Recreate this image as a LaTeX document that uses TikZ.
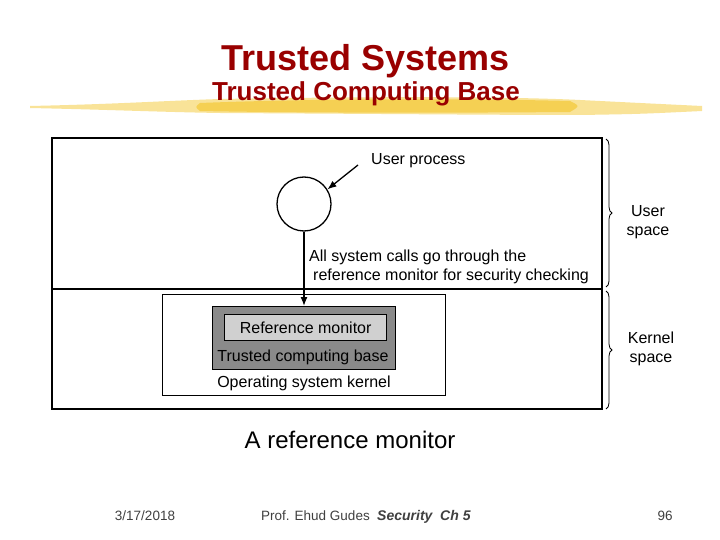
\documentclass[tikz,border=0pt]{standalone}
\usepackage{fontspec}
\setmainfont{Liberation Sans}
\usetikzlibrary{decorations.pathreplacing,arrows.meta}
\definecolor{titlered}{HTML}{990000}
\definecolor{hlyellow}{HTML}{F2C21B}
\definecolor{tcbgray}{HTML}{8A8A8A}
\definecolor{rmgray}{HTML}{D0D0D0}
\definecolor{footgray}{HTML}{404040}
\begin{document}
\begin{tikzpicture}[x=1pt,y=-1pt,
  box/.style={draw=black, line width=1.3pt},
  lbl/.style={font=\fontsize{16}{18}\selectfont, inner sep=0pt},
  brc/.style={decorate, decoration={brace, amplitude=6pt}, line width=0.8pt},
  foot/.style={font=\fontsize{13.5}{15}\selectfont, text=footgray, inner sep=0pt, anchor=base}
]
\useasboundingbox (0,0) rectangle (720,540);
\fill[white] (0,0) rectangle (720,540);

% highlighter stroke
\fill[hlyellow, opacity=0.45] (30,106) .. controls (120,104) and (160,101) .. (220,99) .. controls (400,96) and (520,97) .. (580,100) .. controls (640,103) .. (702,106) -- (702,111) .. controls (640,114) .. (580,115) .. controls (500,115) and (400,114) .. (220,113) .. controls (160,112) and (120,110) .. (30,108) -- cycle;
\fill[hlyellow, opacity=0.55] (200,103) .. controls (300,99) and (450,98) .. (570,101) .. controls (580,106) .. (570,112) .. controls (450,113) and (300,113) .. (200,111) .. controls (195,107) .. (200,103) -- cycle;

% titles
\node[font=\bfseries\fontsize{36}{40}\selectfont, text=titlered, inner sep=0pt, anchor=base] (title) at (366,71) {Trusted Systems};
\node[font=\bfseries\fontsize{26}{28}\selectfont, text=titlered, inner sep=0pt, anchor=base] (subtitle) at (366,101) {Trusted Computing Base};

% outer frame
\draw[box] (52,138) rectangle (602,409);
\draw[box] (52,289) -- (602,289);

% user process circle
\node[draw, line width=1.3pt, circle, minimum size=54pt, inner sep=0pt] (up) at (304,204) {};
\node[lbl, anchor=base west] (uplbl) at (371,165) {User process};
\coordinate (uparrow) at (358,165);
\draw[line width=1.3pt, -{Latex[length=9pt,width=7pt]}] (uparrow) -- (up.32);

% kernel boxes
\node[box, minimum width=283pt, minimum height=101pt, anchor=north west, inner sep=0pt] (os) at (162,294) {};
\node[box, fill=tcbgray, minimum width=183pt, minimum height=63pt, anchor=north west, inner sep=0pt] (tcb) at (212,306) {};
\node[box, fill=rmgray, minimum width=162pt, minimum height=26pt, anchor=north west, inner sep=0pt] (rm) at (224,314) {};
\node[lbl, anchor=center] (rmlbl) at (rm.center) {Reference monitor};
\node[lbl, anchor=base] (tcblbl) at (303,361) {Trusted computing base};
\node[lbl, anchor=base] (oslbl) at (304,387) {Operating system kernel};

% system call arrow
\draw[line width=1.3pt, -{Latex[length=9pt,width=7pt]}] (up.south) -- (up.south |- tcb.north);
\node[lbl, anchor=base west] (call1) at (309,261) {All system calls go through the};
\node[lbl, anchor=base west] (call2) at (313,280) {reference monitor for security checking};

% braces
\draw[brc] (606,139) -- (606,287);
\draw[brc] (606,291) -- (606,409);
\node[lbl, align=center, anchor=center] (uspace) at (648,222) {User\\[1pt]space};
\node[lbl, align=center, anchor=center] (kspace) at (651,349) {Kernel\\[1pt]space};

% caption
\node[font=\fontsize{24}{27}\selectfont, inner sep=0pt, anchor=base] (caption) at (350,448) {A reference monitor};

% footer
\node[foot] (date) at (145,520) {3/17/2018};
\node[foot, anchor=base west] (author) at (261,520) {Prof. Ehud Gudes};
\node[foot, anchor=base west, font=\bfseries\itshape\fontsize{14}{15}\selectfont] (course) at (377,520) {Security\ \ Ch 5};
\node[foot] (page) at (665,520) {96};
\end{tikzpicture}
\end{document}
